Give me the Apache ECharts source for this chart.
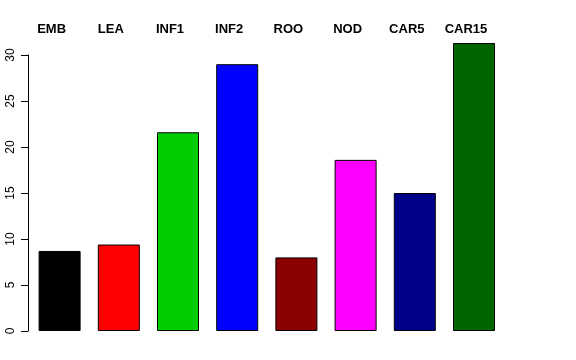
<!DOCTYPE html>
<html>
<head>
<meta charset="utf-8">
<script src="https://cdn.jsdelivr.net/npm/echarts@6/dist/echarts.min.js"></script>
<style>html,body{margin:0;padding:0;background:#fff}#c{width:576px;height:360px}</style>
</head>
<body>
<div id="c"></div>
<script>
const categories = ['EMB', 'LEA', 'INF1', 'INF2', 'ROO', 'NOD', 'CAR5', 'CAR15'];
const values = [8.7, 9.4, 21.6, 29.0, 8.0, 18.6, 15.0, 31.3];
const barColors = ['#000000', '#FF0000', '#00CD00', '#0000FF', '#8B0000', '#FF00FF', '#00008B', '#006400'];
const yTicks = [0, 5, 10, 15, 20, 25, 30];

const chart = echarts.init(document.getElementById('c'), null, {renderer: 'canvas'});
chart.setOption({
  animation: false,
  backgroundColor: '#ffffff',
  grid: {left: 30, width: 473.6, top: 55, bottom: 29, containLabel: false},
  xAxis: [{
    type: 'category', data: categories, position: 'top',
    axisLine: {show: false}, axisTick: {show: false},
    axisLabel: {
      show: true, margin: 19, fontFamily: 'Liberation Sans, Arial, sans-serif',
      fontWeight: 'bold', fontSize: 13, color: '#000', padding: [0, 16, 0, 0]
    },
    splitLine: {show: false}
  }],
  yAxis: [{
    type: 'value', min: yTicks[0], max: yTicks[yTicks.length - 1], interval: 5, offset: 2,
    axisLine: {show: true, lineStyle: {color: '#000', width: 1}},
    axisTick: {show: true, length: 7, lineStyle: {color: '#000', width: 1}},
    axisLabel: {
      rotate: 90, margin: 11, fontSize: 12, color: '#000',
      fontFamily: 'Liberation Sans, Arial, sans-serif'
    },
    splitLine: {show: false}
  }],
  series: [{
    type: 'bar', clip: false, barWidth: 42,
    data: values.map((v, i) => ({value: v, itemStyle: {color: barColors[i]}})),
    itemStyle: {borderColor: '#000', borderWidth: 1}
  }]
});
</script>
</body>
</html>
